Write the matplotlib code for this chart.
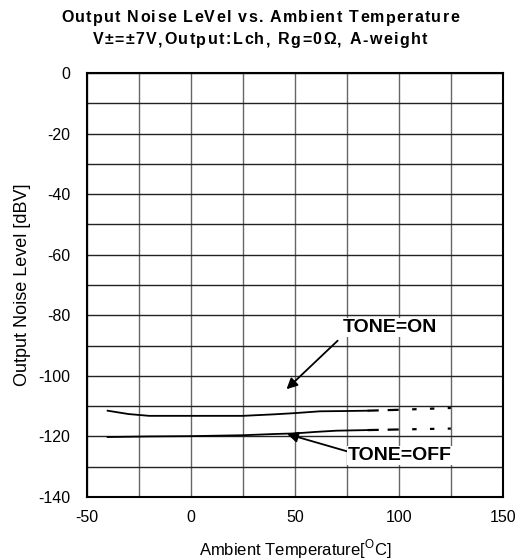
import numpy as np
import matplotlib.pyplot as plt
from matplotlib.ticker import MultipleLocator

plt.rcParams['font.family'] = ['Liberation Sans', 'DejaVu Sans']
plt.rcParams['mathtext.fontset'] = 'custom'
plt.rcParams['mathtext.rm'] = 'Liberation Sans'
plt.rcParams['axes.unicode_minus'] = False

# measured data (solid) and extrapolated part (dashed / dotted)
temp_on = [-40, -30, -20, 0, 25, 40, 50, 62, 75, 85]
noise_on = [-111.5, -112.6, -113.2, -113.2, -113.2, -112.7, -112.3, -111.7, -111.6, -111.5]
temp_on_ext = [85, 100, 125]
noise_on_ext = [-111.5, -111.2, -110.6]

temp_off = [-40, -20, 0, 25, 40, 50, 60, 70, 85]
noise_off = [-120.2, -120.0, -119.9, -119.6, -119.2, -119.0, -118.5, -118.1, -117.9]
temp_off_ext = [85, 100, 125]
noise_off_ext = [-117.9, -117.7, -117.4]

W, H = 520, 560
fig = plt.figure(figsize=(W / 100, H / 100), dpi=100)
ax = fig.add_axes([0.167, 0.1125, 0.800, 0.757])

ax.plot(temp_on, noise_on, color='k', lw=1.3)
ax.plot(temp_on_ext[:2], noise_on_ext[:2], color='k', lw=1.6, ls=(0, (5, 4)))
ax.plot(temp_on_ext[1:], noise_on_ext[1:], color='k', lw=1.6, ls=(2, (2, 6)))
ax.plot(temp_off, noise_off, color='k', lw=1.3)
ax.plot(temp_off_ext[:2], noise_off_ext[:2], color='k', lw=1.6, ls=(0, (5, 4)))
ax.plot(temp_off_ext[1:], noise_off_ext[1:], color='k', lw=1.6, ls=(2, (2, 6)))

ax.set_xlim(-50, 150)
ax.set_ylim(-140, 0)
ax.xaxis.set_major_locator(MultipleLocator(50))
ax.xaxis.set_minor_locator(MultipleLocator(25))
ax.yaxis.set_major_locator(MultipleLocator(20))
ax.yaxis.set_minor_locator(MultipleLocator(10))
ax.xaxis.grid(which='both', color='#666666', lw=1.0)
ax.yaxis.grid(which='both', color='#222222', lw=1.0)
ax.set_axisbelow(True)
ax.tick_params(which='both', length=0, labelsize=11.5)
ax.tick_params(axis='x', pad=9)
ax.tick_params(axis='y', pad=12)
for s in ax.spines.values():
    s.set_linewidth(1.5)

ax.set_xlabel(r'Ambient Temperature[$^{\mathrm{O}}$C]', fontsize=12, labelpad=9)
ax.set_ylabel('Output Noise Level [dBV]', fontsize=13, labelpad=5)


def tracked_title(s, y_px, target_w, **kw):
    # draw a centred line of text with extra letter spacing
    r = fig.canvas.get_renderer()

    def width(txt):
        t = fig.text(0, 0, txt, **kw)
        w = t.get_window_extent(r).width
        t.remove()
        return w

    bar = width('||')
    widths = [width('|' + ch + '|') - bar for ch in s]
    track = max(0, (target_w - sum(widths)) / (len(s) - 1))
    x = (W - target_w) / 2
    for ch, w in zip(s, widths):
        fig.text(x / W, 1 - y_px / H, ch, ha='left', va='center', **kw)
        x += w + track


tracked_title('Output Noise LeVel vs. Ambient Temperature', 18, 398,
              fontsize=11.5, fontweight='bold')
tracked_title('V\u00b1=\u00b17V,Output:Lch, Rg=0\u03a9, A-weight', 40, 335,
              fontsize=11.5, fontweight='bold')

ax.annotate('TONE=ON', xy=(46, -104.4), xytext=(73, -84), fontsize=14, fontweight='bold',
            ha='left', va='center',
            bbox=dict(boxstyle='square,pad=0.05', fc='white', ec='none'),
            arrowprops=dict(arrowstyle='-|>', color='k', lw=1.3, mutation_scale=16,
                            shrinkA=4, shrinkB=0, relpos=(0, 0)))
ax.annotate('TONE=OFF', xy=(46.3, -119.2), xytext=(75.5, -126.4), fontsize=14, fontweight='bold',
            ha='left', va='center',
            bbox=dict(boxstyle='square,pad=0.05', fc='white', ec='none'),
            arrowprops=dict(arrowstyle='-|>', color='k', lw=1.3, mutation_scale=16,
                            shrinkA=0, shrinkB=0, relpos=(0, 0.75)))

fig.savefig('out.png', dpi=100)
